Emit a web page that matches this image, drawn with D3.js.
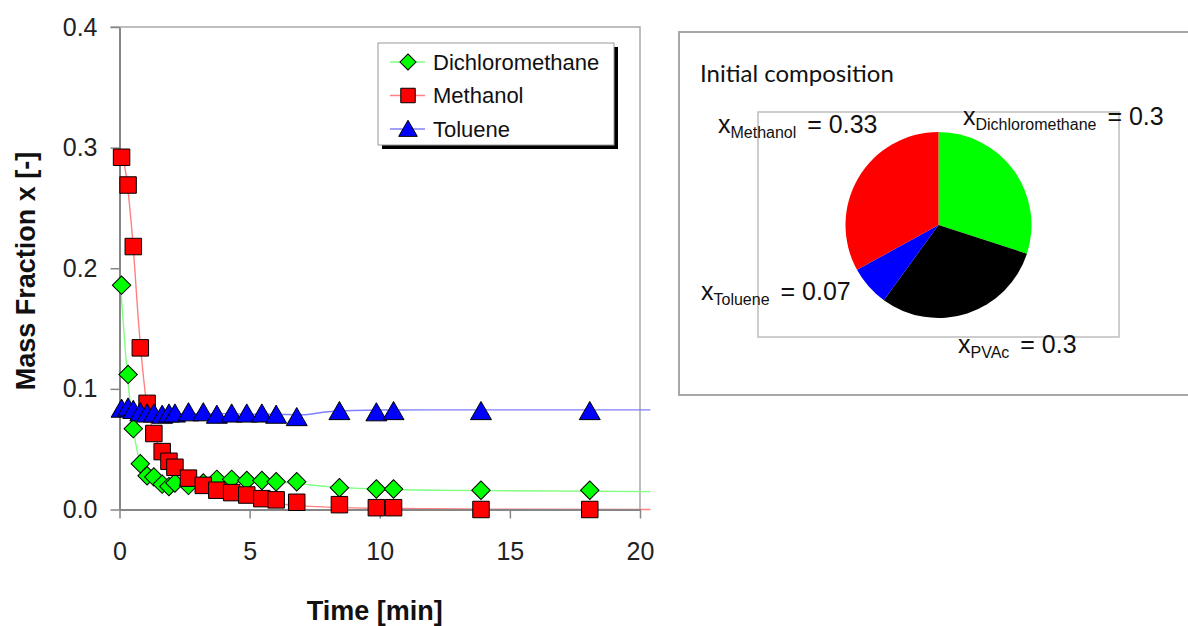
<!DOCTYPE html>
<html>
<head>
<meta charset="utf-8">
<script src="https://cdn.jsdelivr.net/npm/d3@7"></script>
<style>
    body { margin: 0; background: #fff; }
    svg { display: block; font-family: "Liberation Sans", Arial, sans-serif; }
</style>
</head>
<body>
<div id="chart"></div>
<script>
// measured samples
let times = [0.08, 0.33, 0.53, 0.8, 1.06, 1.32, 1.64, 1.9, 2.13, 2.65, 3.22, 3.74, 4.31, 4.89, 5.47, 6.02, 6.81, 8.45, 9.87, 10.53, 13.89, 18.07];
let dichloromethane = [0.186, 0.112, 0.067, 0.038, 0.028, 0.027, 0.021, 0.019, 0.022, 0.020, 0.022, 0.025, 0.025, 0.024, 0.024, 0.023, 0.023, 0.018, 0.017, 0.017, 0.016, 0.016];
let methanol = [0.292, 0.269, 0.218, 0.134, 0.088, 0.063, 0.048, 0.040, 0.035, 0.026, 0.020, 0.016, 0.014, 0.012, 0.009, 0.008, 0.006, 0.004, 0.0015, 0.0015, 0.0, 0.0];
let toluene = [0.084, 0.085, 0.083, 0.081, 0.080, 0.080, 0.079, 0.080, 0.080, 0.081, 0.081, 0.079, 0.080, 0.080, 0.080, 0.079, 0.077, 0.082, 0.081, 0.082, 0.082, 0.082];

// model curves
let fitTimes = [0, 0.25, 0.5, 0.75, 1, 1.25, 1.5, 2, 2.5, 3, 4, 5, 6, 7, 8, 10, 12, 15, 20.4];
let fitDichloromethane = [0.200, 0.125, 0.072, 0.042, 0.030, 0.026, 0.024, 0.023, 0.023, 0.024, 0.024, 0.024, 0.023, 0.021, 0.019, 0.017, 0.016, 0.0155, 0.0148];
let fitMethanol = [0.300, 0.278, 0.225, 0.150, 0.095, 0.068, 0.053, 0.038, 0.028, 0.021, 0.013, 0.008, 0.005, 0.003, 0.002, 0.001, 0.0006, 0.0003, 0.0];
let fitToluene = [0.085, 0.084, 0.082, 0.081, 0.080, 0.080, 0.080, 0.0795, 0.0795, 0.0795, 0.0795, 0.079, 0.079, 0.0785, 0.081, 0.0825, 0.0826, 0.0826, 0.0826];

let seriesNames = ["Dichloromethane", "Methanol", "Toluene"];
let xTicks = [0, 5, 10, 15, 20];
let yTicks = [0, 0.1, 0.2, 0.3, 0.4];

// initial composition pie
let pieNames = ["Dichloromethane", "PVAc", "Toluene", "Methanol"];
let pieValues = [0.3, 0.3, 0.07, 0.33];
let pieLabels = ["0.3", "0.3", "0.07", "0.33"];

let markerFill = {Dichloromethane: "#00ff00", Methanol: "#ff0000", Toluene: "#0000ff"};
let lineColor = {Dichloromethane: "#80ff80", Methanol: "#ff8080", Toluene: "#8080ff"};
let pieColor = {Dichloromethane: "#00ff00", PVAc: "#000000", Toluene: "#0000ff", Methanol: "#ff0000"};

let W = 1188, H = 626;
let svg = d3.select("#chart").append("svg")
    .attr("width", W)
    .attr("height", H);

let x = d3.scaleLinear().domain([0, 20]).range([119.5, 640]);
let y = d3.scaleLinear().domain([0, 0.4]).range([509.5, 27]);

// frame top / right
svg.append("path")
    .attr("d", `M${x(0) - 9},${y(0.4)}H${x(20)}V${y(0)}`)
    .attr("fill", "none")
    .attr("stroke", "#a8a8a8")
    .attr("stroke-width", 1.5);

// model lines
svg.append("clipPath").attr("id", "clipLines")
    .append("rect").attr("x", x(0)).attr("y", 0).attr("width", 540).attr("height", y(0) + 2);

let line = d3.line()
    .x(d => x(d[0]))
    .y(d => y(d[1]))
    .curve(d3.curveMonotoneX);

let fits = {
    Dichloromethane: fitDichloromethane,
    Methanol: fitMethanol,
    Toluene: fitToluene
};
let measured = {
    Dichloromethane: dichloromethane,
    Methanol: methanol,
    Toluene: toluene
};

let lineG = svg.append("g").attr("clip-path", "url(#clipLines)");
seriesNames.forEach(name => {
    lineG.append("path")
        .datum(fitTimes.map((t, i) => [t, fits[name][i]]))
        .attr("fill", "none")
        .attr("stroke", lineColor[name])
        .attr("stroke-width", 1.4)
        .attr("d", line);
});

// axes
let xAxis = d3.axisBottom(x).tickValues(xTicks).tickSize(9).tickSizeOuter(0).tickPadding(24);
let yAxis = d3.axisLeft(y).tickValues(yTicks).tickSize(9).tickSizeOuter(0).tickPadding(13).tickFormat(d3.format(".1f"));

let gx = svg.append("g")
    .attr("transform", `translate(0,${y(0)})`)
    .call(xAxis);
let gy = svg.append("g")
    .attr("transform", `translate(${x(0)},0)`)
    .call(yAxis);

[gx, gy].forEach(g => {
    g.select(".domain").attr("stroke", "#868686").attr("stroke-width", 2);
    g.selectAll(".tick line").attr("stroke", "#868686").attr("stroke-width", 1.5);
    g.selectAll(".tick text")
        .attr("fill", "#222")
        .style("font-size", "25px")
        .style("font-family", "'Liberation Sans', Arial, sans-serif");
});

// markers
let symbols = {
    Dichloromethane: {path: d3.symbol(d3.symbolSquare, 170)(), rot: 45, dy: 0},
    Methanol: {path: d3.symbol(d3.symbolSquare, 272)(), rot: 0, dy: 0},
    Toluene: {path: d3.symbol(d3.symbolTriangle, 190)(), rot: 0, dy: 3}
};

seriesNames.forEach(name => {
    let pts = times.map((t, i) => ({t: t, v: measured[name][i]}));
    svg.append("g").selectAll("path")
        .data(pts)
        .enter().append("path")
        .attr("d", symbols[name].path)
        .attr("transform", d => `translate(${x(d.t)},${y(d.v) + symbols[name].dy}) rotate(${symbols[name].rot})`)
        .attr("fill", markerFill[name])
        .attr("stroke", "#000")
        .attr("stroke-width", 1);
});

// axis titles
svg.append("text")
    .attr("x", (x(0) + x(20)) / 2 - 5)
    .attr("y", 620)
    .attr("text-anchor", "middle")
    .style("font-weight", "bold")
    .style("font-size", "27px")
    .attr("fill", "#111")
    .text("Time [min]");

svg.append("text")
    .attr("transform", "rotate(-90)")
    .attr("x", -271)
    .attr("y", 35)
    .attr("text-anchor", "middle")
    .style("font-weight", "bold")
    .style("font-size", "27px")
    .attr("fill", "#111")
    .text("Mass Fraction x [-]");

// legend
let legend = svg.append("g").attr("transform", "translate(378,43)");
legend.append("rect")
    .attr("x", 4).attr("y", 4)
    .attr("width", 236).attr("height", 102)
    .attr("fill", "#000");
legend.append("rect")
    .attr("width", 236).attr("height", 102)
    .attr("fill", "#fff")
    .attr("stroke", "#9a9a9a")
    .attr("stroke-width", 1);

let rows = legend.selectAll(".legend")
    .data(seriesNames)
    .enter().append("g")
    .attr("class", "legend")
    .attr("transform", (d, i) => `translate(0,${19 + i * 33.5})`);

rows.append("line")
    .attr("x1", 12).attr("x2", 47)
    .attr("stroke", d => lineColor[d])
    .attr("stroke-width", 1.4);

rows.append("path")
    .attr("d", d => d3.symbol(d === "Toluene" ? d3.symbolTriangle : d3.symbolSquare,
        d === "Toluene" ? 150 : (d === "Methanol" ? 210 : 130))())
    .attr("transform", d => `translate(30,${d === "Toluene" ? 2 : 0}) rotate(${d === "Dichloromethane" ? 45 : 0})`)
    .attr("fill", d => markerFill[d])
    .attr("stroke", "#000")
    .attr("stroke-width", 1);

rows.append("text")
    .attr("x", 55)
    .attr("y", 7.5)
    .style("font-size", "22px")
    .attr("fill", "#111")
    .text(d => d);

// pie panel
svg.append("rect")
    .attr("x", 679).attr("y", 32)
    .attr("width", 530).attr("height", 363)
    .attr("fill", "#fff")
    .attr("stroke", "#a8a8a8")
    .attr("stroke-width", 2);

svg.append("rect")
    .attr("x", 758).attr("y", 112)
    .attr("width", 361).attr("height", 225)
    .attr("fill", "none")
    .attr("stroke", "#bdbdbd")
    .attr("stroke-width", 1.5);

svg.append("text")
    .attr("x", 700)
    .attr("y", 82)
    .style("font-family", "Lato, 'Open Sans', sans-serif")
    .style("font-size", "24px")
    .attr("fill", "#111")
    .text("Initial composition");

let pieData = d3.pie().sort(null).value(d => d.value)(
    pieNames.map((n, i) => ({name: n, value: pieValues[i], label: pieLabels[i]})));
let arc = d3.arc().innerRadius(0).outerRadius(93);

let pieG = svg.append("g").attr("transform", "translate(938.5,225)");
pieG.selectAll("path")
    .data(pieData)
    .enter().append("path")
    .attr("d", arc)
    .attr("fill", d => pieColor[d.data.name]);

// label anchors (start of the "x")
let labelPos = {
    Dichloromethane: [963, 125],
    PVAc: [958, 353],
    Toluene: [701, 300],
    Methanol: [718, 133]
};

let labels = svg.append("g").selectAll("text")
    .data(pieData)
    .enter().append("text")
    .attr("x", d => labelPos[d.data.name][0])
    .attr("y", d => labelPos[d.data.name][1])
    .style("font-size", "25px")
    .attr("fill", "#111");

labels.append("tspan").text("x");
labels.append("tspan")
    .attr("dy", 5)
    .style("font-size", "16px")
    .text(d => d.data.name);
labels.append("tspan")
    .attr("dy", -5)
    .attr("dx", 4)
    .text(d => " = " + d.data.label);
</script>
</body>
</html>
